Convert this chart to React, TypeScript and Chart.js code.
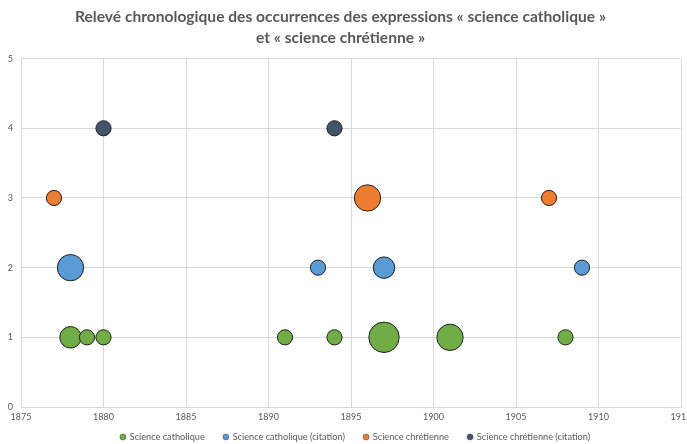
import React, { useEffect, useRef } from "react";
import { Chart, registerables } from "chart.js";

Chart.register(...registerables);

const titleLines = [
  "Relevé chronologique des occurrences des expressions « science catholique »",
  "et « science chrétienne »",
];

const seriesNames = [
  "Science catholique",
  "Science catholique (citation)",
  "Science chrétienne",
  "Science chrétienne (citation)",
];
const seriesColors = ["#70AD47", "#5B9BD5", "#ED7D31", "#44546A"];
const seriesLevels = [1, 2, 3, 4];

const catholiqueYears = [1878, 1879, 1880, 1891, 1894, 1897, 1901, 1908];
const catholiqueCounts = [2, 1, 1, 1, 1, 4, 3, 1];
const catholiqueCitYears = [1878, 1893, 1897, 1909];
const catholiqueCitCounts = [3, 1, 2, 1];
const chretienneYears = [1877, 1896, 1907];
const chretienneCounts = [1, 3, 1];
const chretienneCitYears = [1880, 1894];
const chretienneCitCounts = [1, 1];

const yearMin = 1875;
const yearMax = 1915;
const levelMin = 0;
const levelMax = 5;

const baseRadius = 7.6;

const allYears = [catholiqueYears, catholiqueCitYears, chretienneYears, chretienneCitYears];
const allCounts = [catholiqueCounts, catholiqueCitCounts, chretienneCounts, chretienneCitCounts];

const FONT = "Lato, 'Open Sans', sans-serif";
const GREY = "#595959";
const GRID = "#d9d9d9";

const legendShift = {
  id: "legendShift",
  afterLayout(chart: any) {
    const lg = chart.legend;
    if (lg) {
      lg.top -= 9.6;
      lg.height = lg.bottom - lg.top;
      lg.left += 15;
      lg.right += 15;
    }
  },
};

export default function App() {
  const ref = useRef<HTMLCanvasElement | null>(null);

  useEffect(() => {
    if (!ref.current) return;
    const datasets = seriesNames.map((name, i) => ({
      label: name,
      data: allYears[i].map((yr, j) => ({
        x: yr,
        y: seriesLevels[i],
        r: baseRadius * Math.sqrt(allCounts[i][j]),
      })),
      backgroundColor: seriesColors[i],
      borderColor: "#1f1f1f",
      borderWidth: 1,
      clip: false as any,
    }));

    const chart = new Chart(ref.current, {
      type: "bubble",
      data: { datasets },
      plugins: [legendShift],
      options: {
        responsive: true,
        maintainAspectRatio: false,
        animation: false,
        layout: { autoPadding: false, padding: { left: 0, right: 6, top: 0, bottom: 0 } },
        plugins: {
          title: {
            display: true,
            text: titleLines,
            color: GREY,
            font: { family: FONT, size: 15.6, weight: "bold", lineHeight: 1.35 },
            padding: { top: 6, bottom: 10.5 },
          },
          legend: {
            position: "bottom",
            maxHeight: 21,
            labels: {
              usePointStyle: true,
              pointStyle: "circle",
              boxWidth: 4.3,
              boxHeight: 4.3,
              padding: 19,
              color: GREY,
              font: { family: FONT, size: 9.2 },
              generateLabels: (c: any) =>
                c.data.datasets.map((d: any, i: number) => ({
                  text: d.label,
                  fillStyle: d.backgroundColor,
                  strokeStyle: "#404040",
                  lineWidth: 0.5,
                  pointStyle: "circle",
                  hidden: false,
                  datasetIndex: i,
                  fontColor: GREY,
                })),
            },
          },
          tooltip: { enabled: false },
        },
        scales: {
          x: {
            type: "linear",
            min: yearMin,
            max: yearMax,
            ticks: {
              stepSize: 5,
              color: GREY,
              font: { family: FONT, size: 9 },
              padding: 5,
              maxRotation: 0,
              callback: (v: any) => String(v),
            },
            grid: { color: GRID, drawTicks: false },
            border: { color: GRID },
            afterFit: (s: any) => {
              s.paddingLeft = 0;
              s.paddingRight = 0;
              s.height = 16;
            },
          },
          y: {
            type: "linear",
            min: levelMin,
            max: levelMax,
            ticks: {
              stepSize: 1,
              color: GREY,
              font: { family: FONT, size: 9 },
              padding: 8,
            },
            grid: { color: GRID, drawTicks: false },
            border: { color: GRID },
            afterFit: (s: any) => {
              s.width = 21;
              s.paddingTop = 0;
              s.paddingBottom = 0;
            },
          },
        },
      },
    });
    return () => chart.destroy();
  }, []);

  return (
    <div style={{ position: "fixed", left: 0, top: 0, width: 687, height: 444, background: "#fff" }}>
      <canvas ref={ref} />
    </div>
  );
}
